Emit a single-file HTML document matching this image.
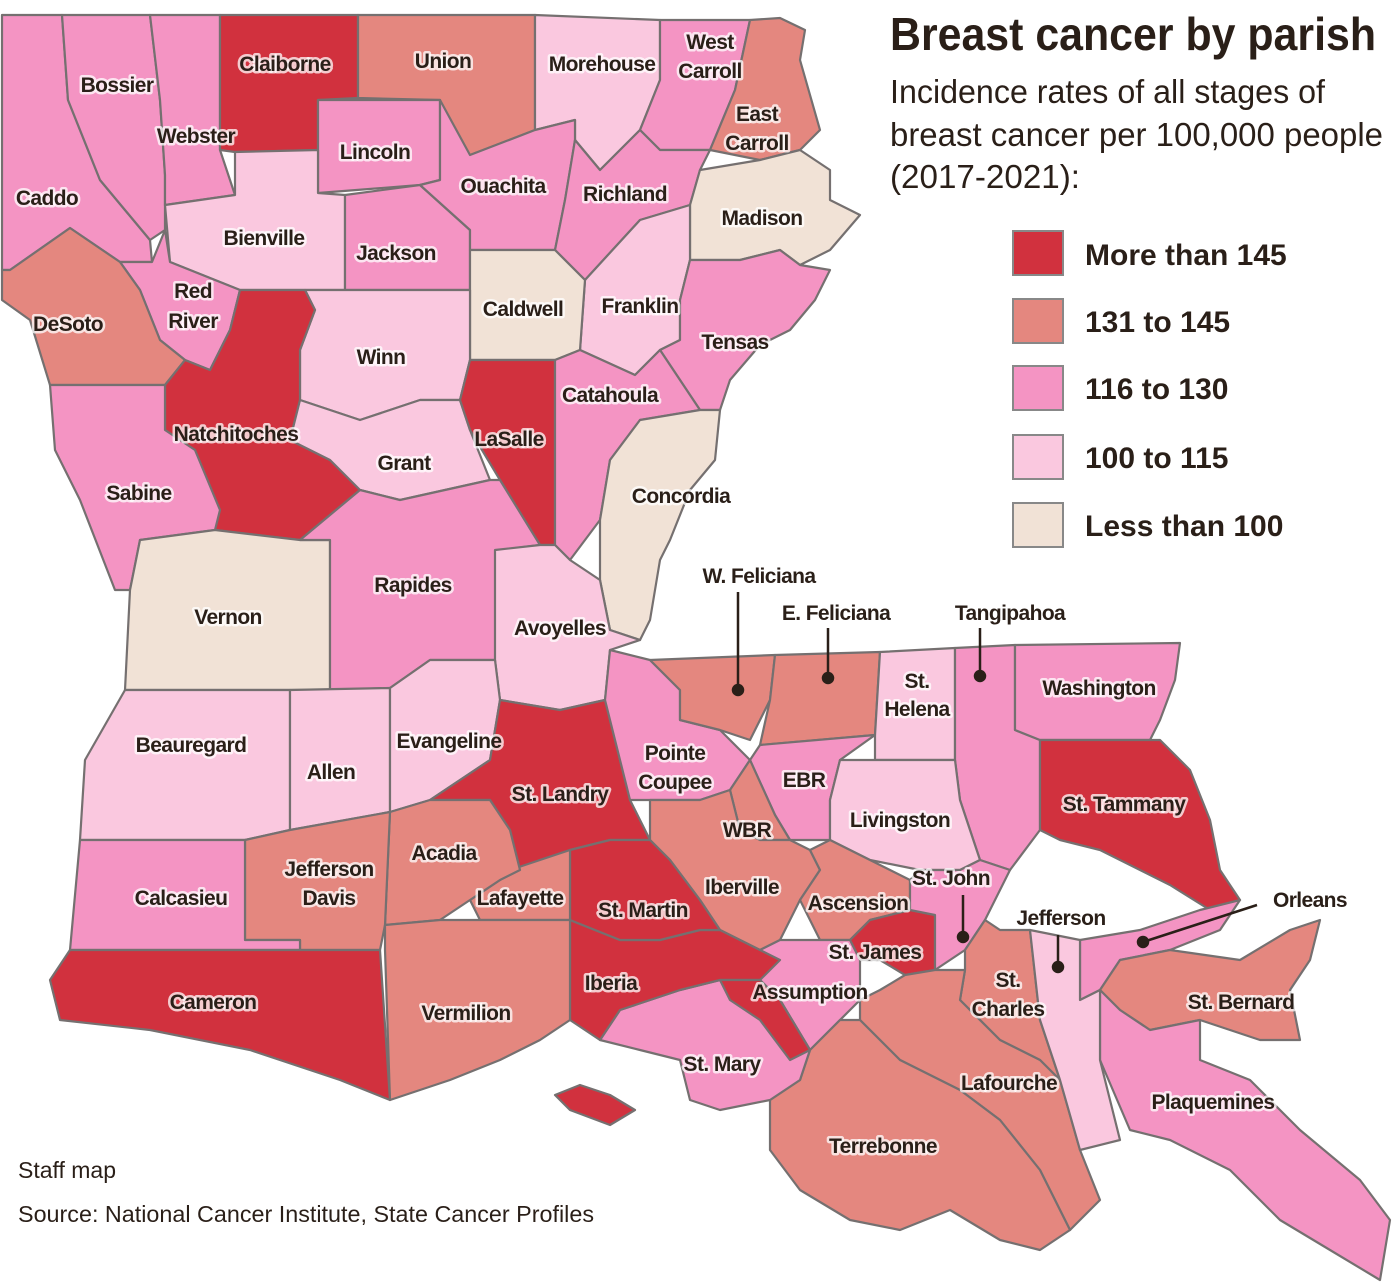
<!DOCTYPE html>
<html><head><meta charset="utf-8"><style>
html,body{margin:0;padding:0;background:#fff;}
svg{display:block}
.p{stroke:#757070;stroke-width:2.2;stroke-linejoin:round}
.R{fill:#d1313e}.S{fill:#e4877f}.P{fill:#f494c3}.L{fill:#fac8df}.B{fill:#f1e2d6}.W{fill:#fff}
.lb{font-family:"Liberation Sans Narrow","Liberation Sans",sans-serif;font-weight:bold;font-size:21px;letter-spacing:-0.6px;fill:#2a1f18;text-anchor:middle;stroke:#fff;stroke-width:5px;stroke-opacity:.75;paint-order:stroke;stroke-linejoin:round}
.ld{font-family:"Liberation Sans Narrow","Liberation Sans",sans-serif;font-weight:bold;font-size:30px;fill:#2a1f18}
</style></head><body>
<svg width="1400" height="1286" viewBox="0 0 1400 1286" xmlns="http://www.w3.org/2000/svg">
<g class="p">
<polygon class="P" points="2,15 62,15 68,100 100,180 150,240 152,262 120,262 70,228 10,270 2,270"/>
<polygon class="P" points="62,15 150,15 160,100 165,175 165,230 150,240 100,180 68,100"/>
<polygon class="P" points="150,15 220,15 220,150 235,195 165,205 165,175 160,100"/>
<polygon class="R" points="220,15 358,15 358,98 318,100 318,150 235,152 220,150"/>
<polygon class="S" points="358,15 535,15 535,130 470,155 440,150 440,100 358,98"/>
<polygon class="L" points="535,15 660,20 660,80 640,130 600,170 575,140 575,120 535,130"/>
<polygon class="P" points="660,20 750,20 735,90 710,150 660,150 640,130 660,80"/>
<polygon class="S" points="750,20 780,18 805,30 800,60 820,130 800,150 760,160 710,150 735,90"/>
<polygon class="P" points="318,100 440,100 440,180 420,185 318,193"/>
<polygon class="L" points="165,205 235,195 235,152 318,150 318,193 345,195 345,290 240,290 170,262"/>
<polygon class="P" points="345,195 420,185 470,230 470,290 345,290"/>
<polygon class="P" points="440,100 470,155 535,130 575,120 575,140 565,200 555,250 470,250 470,230 420,185 440,180"/>
<polygon class="P" points="575,140 600,170 640,130 660,150 710,150 700,170 690,205 640,220 585,280 555,250 565,200"/>
<polygon class="B" points="700,170 760,160 800,150 830,170 830,200 860,215 830,250 800,265 780,250 740,260 690,260 690,205"/>
<polygon class="L" points="585,280 640,220 690,205 690,260 680,300 680,340 660,350 635,375 580,350"/>
<polygon class="P" points="690,260 740,260 780,250 800,265 830,270 815,300 790,330 760,345 730,380 720,410 700,410 680,380 660,350 680,340 680,300"/>
<polygon class="B" points="470,250 555,250 585,280 580,350 555,360 470,360"/>
<polygon class="L" points="305,290 470,290 470,360 460,400 420,400 360,420 300,400 300,350 315,310"/>
<polygon class="P" points="120,262 152,262 165,230 170,262 240,290 230,330 210,370 185,360 160,340 140,290"/>
<polygon class="S" points="10,270 70,228 120,262 140,290 160,340 185,360 165,385 50,385 30,320 2,300 2,270"/>
<polygon class="R" points="165,385 185,360 210,370 230,330 240,290 305,290 315,310 300,350 300,400 290,440 330,460 360,490 300,540 215,530 195,450 165,430"/>
<polygon class="P" points="50,385 165,385 165,430 195,450 220,510 215,530 140,540 130,590 115,590 80,500 55,450"/>
<polygon class="L" points="300,400 360,420 420,400 460,400 470,430 490,480 400,500 360,490 330,460 290,440"/>
<polygon class="R" points="470,360 555,360 555,545 540,545 500,480 470,430 460,400"/>
<polygon class="P" points="555,360 580,350 635,375 660,350 680,380 700,410 640,420 610,460 600,520 570,560 555,545"/>
<polygon class="B" points="640,420 700,410 720,410 715,460 690,490 670,540 660,560 650,620 640,640 610,630 600,580 600,520 610,460"/>
<polygon class="B" points="140,540 215,530 300,540 330,540 330,690 125,690 130,590"/>
<polygon class="P" points="300,540 360,490 400,500 490,480 500,480 540,545 500,550 495,660 430,660 390,688 330,690 330,540"/>
<polygon class="L" points="495,550 540,545 555,545 570,560 600,580 610,630 640,640 610,650 605,700 560,710 500,700 495,660"/>
<polygon class="L" points="125,690 290,690 290,830 245,840 80,840 85,760"/>
<polygon class="L" points="290,690 390,688 390,812 290,830"/>
<polygon class="L" points="390,688 430,660 495,660 500,700 490,760 430,800 390,812"/>
<polygon class="R" points="500,700 560,710 605,700 615,740 630,800 650,840 610,840 570,850 540,860 520,870 510,830 490,800 430,800 490,760"/>
<polygon class="P" points="605,700 610,650 650,660 660,670 680,690 680,720 720,730 750,760 730,790 700,800 650,800 630,800 615,740"/>
<polygon class="S" points="650,660 775,655 770,700 750,740 720,730 680,720 680,690 660,670"/>
<polygon class="S" points="775,655 880,652 875,735 760,745 770,700"/>
<polygon class="L" points="880,652 955,648 955,760 875,760 875,735"/>
<polygon class="P" points="955,648 1015,645 1015,730 1040,740 1040,830 1010,870 980,860 960,800 955,760"/>
<polygon class="P" points="1015,645 1180,643 1175,680 1160,720 1150,740 1090,740 1040,740 1015,730"/>
<polygon class="R" points="1040,740 1160,740 1190,770 1210,820 1220,870 1240,900 1210,910 1170,885 1100,850 1060,840 1040,830"/>
<polygon class="P" points="760,745 875,735 840,760 830,800 830,840 790,840 775,815 750,760"/>
<polygon class="L" points="840,760 955,760 960,800 980,860 960,870 920,870 870,860 830,840 830,800"/>
<polygon class="S" points="730,790 750,760 775,815 790,840 760,840 740,830"/>
<polygon class="S" points="650,800 700,800 730,790 740,830 760,840 790,840 810,850 820,870 800,900 780,940 760,950 720,930 700,900 670,860 650,840"/>
<polygon class="S" points="810,850 830,840 870,860 910,880 910,910 870,920 850,940 820,940 800,900 820,870"/>
<polygon class="R" points="850,940 870,920 910,910 935,915 935,970 905,975 880,960 860,960"/>
<polygon class="P" points="780,940 820,940 850,940 860,960 860,1000 840,1020 810,1050 780,1000 760,980 760,950"/>
<polygon class="P" points="910,880 920,870 960,870 980,860 1010,870 1000,890 985,920 965,950 935,970 935,915 910,910"/>
<polygon class="S" points="965,950 985,920 1000,930 1030,930 1040,1020 1060,1080 1040,1060 1000,1040 960,1000 965,970"/>
<polygon class="P" points="1080,940 1140,930 1200,910 1240,900 1220,930 1170,950 1120,960 1100,990 1080,1000"/>
<polygon class="S" points="1120,960 1170,950 1240,960 1290,930 1320,920 1310,960 1290,990 1300,1040 1260,1040 1200,1020 1150,1030 1120,1010 1100,990"/>
<polygon class="P" points="1100,990 1120,1010 1150,1030 1200,1020 1200,1060 1250,1080 1300,1130 1360,1180 1390,1220 1380,1280 1330,1250 1280,1220 1230,1170 1170,1140 1130,1130 1100,1060"/>
<polygon class="S" points="860,1000 880,990 905,975 935,970 965,970 960,1000 1000,1040 1040,1060 1060,1080 1080,1150 1100,1200 1070,1230 1040,1170 1000,1120 960,1090 900,1060 880,1040 860,1020"/>
<polygon class="L" points="1030,930 1080,940 1080,1000 1100,990 1100,1060 1120,1140 1080,1150 1060,1080 1040,1020"/>
<polygon class="S" points="810,1050 840,1020 860,1020 880,1040 900,1060 960,1090 1000,1120 1040,1170 1070,1230 1040,1250 1000,1240 950,1210 900,1230 850,1220 800,1190 770,1150 770,1100 800,1080"/>
<polygon class="P" points="600,1040 620,1010 680,990 720,980 760,980 780,1000 810,1050 800,1080 770,1100 720,1110 690,1100 680,1060 640,1050"/>
<polygon class="R" points="570,920 620,940 660,940 700,930 720,930 760,950 780,960 760,980 720,980 680,990 620,1010 600,1040 570,1020"/>
<polygon class="R" points="720,980 760,980 780,1000 810,1050 790,1060 760,1020 730,1000"/>
<polygon class="R" points="555,1095 580,1085 610,1095 635,1110 610,1125 570,1110"/>
<polygon class="R" points="570,850 610,840 650,840 670,860 700,900 720,930 700,930 660,940 620,940 570,920"/>
<polygon class="S" points="510,870 540,860 570,850 570,920 540,920 480,920 470,900 500,880"/>
<polygon class="S" points="390,812 430,800 490,800 510,830 520,870 500,880 470,900 440,920 385,925"/>
<polygon class="S" points="245,840 290,830 390,812 385,925 380,950 300,950 300,940 245,940"/>
<polygon class="P" points="80,840 245,840 245,940 300,940 300,950 100,950 70,950"/>
<polygon class="S" points="385,925 440,920 480,920 540,920 570,920 570,1020 540,1040 500,1060 450,1080 390,1100 385,950"/>
<polygon class="R" points="70,950 300,950 380,950 390,1100 340,1080 250,1050 150,1030 60,1020 50,980"/>
</g>
<g stroke="#2a1f18" stroke-width="2.5" fill="#2a1f18">
<line x1="738" y1="592" x2="738" y2="690"/><circle cx="738" cy="690" r="5"/>
<line x1="828" y1="628" x2="828" y2="678"/><circle cx="828" cy="678" r="5"/>
<line x1="980" y1="628" x2="980" y2="676"/><circle cx="980" cy="676" r="5"/>
<line x1="963" y1="895" x2="963" y2="937"/><circle cx="963" cy="937" r="5"/>
<line x1="1058" y1="935" x2="1058" y2="967"/><circle cx="1058" cy="967" r="5"/>
<line x1="1143" y1="942" x2="1257" y2="905"/><circle cx="1143" cy="942" r="5"/>
</g>
<g class="lb">
<text x="285" y="71">Claiborne</text><text x="443" y="68">Union</text><text x="602" y="71">Morehouse</text>
<text x="710" y="49">West</text><text x="710" y="78">Carroll</text>
<text x="757" y="121">East</text><text x="757" y="150">Carroll</text>
<text x="117" y="92">Bossier</text><text x="196" y="143">Webster</text><text x="375" y="159">Lincoln</text>
<text x="503" y="193">Ouachita</text><text x="625" y="201">Richland</text><text x="762" y="225">Madison</text>
<text x="47" y="205">Caddo</text><text x="264" y="245">Bienville</text><text x="396" y="260">Jackson</text>
<text x="193" y="298">Red</text><text x="193" y="328">River</text><text x="68" y="331">DeSoto</text>
<text x="523" y="316">Caldwell</text><text x="640" y="313">Franklin</text><text x="735" y="349">Tensas</text>
<text x="381" y="364">Winn</text><text x="610" y="402">Catahoula</text><text x="236" y="441">Natchitoches</text>
<text x="509" y="446">LaSalle</text><text x="404" y="470">Grant</text><text x="139" y="500">Sabine</text>
<text x="681" y="503">Concordia</text><text x="413" y="592">Rapides</text><text x="228" y="624">Vernon</text>
<text x="560" y="635">Avoyelles</text><text x="759" y="583">W. Feliciana</text><text x="836" y="620">E. Feliciana</text>
<text x="1010" y="620">Tangipahoa</text><text x="917" y="688">St.</text><text x="917" y="716">Helena</text>
<text x="1099" y="695">Washington</text><text x="191" y="752">Beauregard</text><text x="449" y="748">Evangeline</text>
<text x="331" y="779">Allen</text><text x="675" y="760">Pointe</text><text x="675" y="789">Coupee</text>
<text x="804" y="787">EBR</text><text x="560" y="801">St. Landry</text><text x="1124" y="811">St. Tammany</text>
<text x="900" y="827">Livingston</text><text x="747" y="837">WBR</text>
<text x="329" y="876">Jefferson</text><text x="329" y="905">Davis</text><text x="444" y="860">Acadia</text>
<text x="181" y="905">Calcasieu</text><text x="520" y="905">Lafayette</text><text x="742" y="894">Iberville</text>
<text x="951" y="885">St. John</text><text x="643" y="917">St. Martin</text><text x="858" y="910">Ascension</text>
<text x="1061" y="925">Jefferson</text><text x="1310" y="907">Orleans</text><text x="875" y="959">St. James</text>
<text x="1008" y="987">St.</text><text x="1008" y="1016">Charles</text><text x="611" y="990">Iberia</text>
<text x="810" y="999">Assumption</text><text x="213" y="1009">Cameron</text><text x="1241" y="1009">St. Bernard</text>
<text x="466" y="1020">Vermilion</text><text x="722" y="1071">St. Mary</text><text x="1009" y="1090">Lafourche</text>
<text x="1213" y="1109">Plaquemines</text><text x="883" y="1153">Terrebonne</text>
</g>
<text x="890" y="50" textLength="486" lengthAdjust="spacingAndGlyphs" font-family="'Liberation Sans Narrow','Liberation Sans',sans-serif" font-weight="bold" font-size="46" fill="#2a1f18">Breast cancer by parish</text>
<g font-family="'Liberation Sans Narrow','Liberation Sans',sans-serif" font-size="33" fill="#2a1f18">
<text x="890" y="103" textLength="435" lengthAdjust="spacingAndGlyphs">Incidence rates of all stages of</text>
<text x="890" y="146" textLength="493" lengthAdjust="spacingAndGlyphs">breast cancer per 100,000 people</text>
<text x="890" y="188" textLength="190" lengthAdjust="spacingAndGlyphs">(2017-2021):</text>
</g>
<g stroke="#888" stroke-width="2">
<rect class="R" x="1013" y="231" width="50" height="44"/>
<rect class="S" x="1013" y="299" width="50" height="44"/>
<rect class="P" x="1013" y="366" width="50" height="44"/>
<rect class="L" x="1013" y="435" width="50" height="44"/>
<rect class="B" x="1013" y="503" width="50" height="44"/>
</g>
<text class="ld" x="1085" y="265">More than 145</text>
<text class="ld" x="1085" y="332">131 to 145</text>
<text class="ld" x="1085" y="399">116 to 130</text>
<text class="ld" x="1085" y="468">100 to 115</text>
<text class="ld" x="1085" y="536">Less than 100</text>
<g font-family="'Liberation Sans Narrow','Liberation Sans',sans-serif" font-size="23" fill="#2a1f18">
<text x="18" y="1178">Staff map</text>
<text x="18" y="1222" textLength="576" lengthAdjust="spacingAndGlyphs">Source: National Cancer Institute, State Cancer Profiles</text>
</g>
</svg>
</body></html>
